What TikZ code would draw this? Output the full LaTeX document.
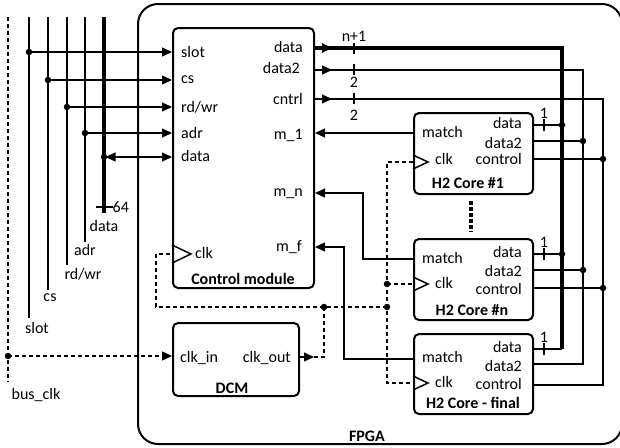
\documentclass[tikz,border=0pt]{standalone}
\usepackage{fontspec}
\setmainfont{Carlito}
\usetikzlibrary{arrows.meta,decorations.markings}
\begin{document}
\begin{tikzpicture}[x=1pt,y=-1pt,
  font=\fontsize{16}{19}\selectfont,
  >={Triangle[length=10pt,width=9pt]},
  box/.style={draw, line width=2pt, rounded corners=5pt, inner sep=0, anchor=north west},
  wire/.style={line width=1.3pt},
  sig/.style={line width=1.8pt},
  bus/.style={line width=4pt},
  clkw/.style={line width=1.2pt, dash pattern=on 4pt off 3pt},
  tri/.style={line width=1.5pt, line join=miter},
  dot/.style={circle, fill, inner sep=0, minimum size=6.5pt},
  lbl/.style={inner sep=0},
  ttl/.style={inner sep=0, font=\fontsize{16}{19}\selectfont\bfseries},
  outarr/.style={postaction={decorate}, decoration={markings, mark=at position #1 with {\arrow{>}}}},
]
\useasboundingbox (0,0) rectangle (620,447);

% FPGA
\node[box, rounded corners=20pt, minimum width=484pt, minimum height=440pt] (fpga) at (137,3) {};
\node[ttl] (fpgal) at (367,436) {FPGA};

% boxes
\node[box, minimum width=141pt, minimum height=260pt] (cm) at (172,27) {};
\node[box, minimum width=126pt, minimum height=73pt] (dcm) at (172,322) {};
\node[box, minimum width=119pt, minimum height=81pt] (c1) at (413,112) {};
\node[box, minimum width=119pt, minimum height=81pt] (cn) at (413,238) {};
\node[box, minimum width=119pt, minimum height=80pt] (cf) at (413,333) {};

% control module labels
\node[lbl, anchor=west] (cmslot) at (181,52) {slot};
\node[lbl, anchor=west] (cmcs) at (181,80) {cs};
\node[lbl, anchor=west] (cmrw) at (181,107) {rd/wr};
\node[lbl, anchor=west] (cmadr) at (181,133) {adr};
\node[lbl, anchor=west] (cmdata) at (181,156) {data};
\node[lbl, anchor=west] (cmclk) at (195,253) {clk};
\node[lbl, anchor=east] (cmod) at (303,47) {data};
\node[lbl, anchor=east] (cmod2) at (300,68) {data2};
\node[lbl, anchor=east] (cmoc) at (303,99) {cntrl};
\node[lbl, anchor=east] (cmm1) at (303,135) {m\_1};
\node[lbl, anchor=east] (cmmn) at (303,194) {m\_n};
\node[lbl, anchor=east] (cmmf) at (302,247) {m\_f};
\node[ttl] (cmt) at (243,279) {Control module};
\draw[tri] (172,245) -- (191,254) -- (172,263);

% DCM labels
\node[lbl, anchor=west] (dcmin) at (180,358) {clk\_in};
\node[lbl, anchor=east] (dcmout) at (291,358) {clk\_out};
\node[ttl] (dcmt) at (232,388) {DCM};

% core labels
\foreach \c/\t/\dy/\ddy/\cy/\my/\ky/\ty/\tx in {c1/H2 Core \#1/123/143/159/132/159/183/468, cn/H2 Core \#n/252/271/289/258/283/310/472, cf/H2 Core - final/347/366/384/357/382/403/473}{
  \node[lbl, anchor=east] (\c d) at (522,\dy) {data};
  \node[lbl, anchor=east] (\c dd) at (522,\ddy) {data2};
  \node[lbl, anchor=east] (\c c) at (522,\cy) {control};
  \node[lbl, anchor=west] (\c m) at (422,\my) {match};
  \node[lbl, anchor=west] (\c k) at (435,\ky) {clk};
  \node[ttl] (\c t) at (\tx,\ty) {\t};
}
\draw[tri] (413,155) -- (428,162) -- (413,169);
\draw[tri] (413,277) -- (428,284) -- (413,291);
\draw[tri] (413,376) -- (428,383) -- (413,390);

% ellipsis
\draw[line width=3.5pt, dash pattern=on 3.5pt off 2.5pt] (471,201) -- (471,232);

% external bus lines
\foreach \n/\x/\yb/\lx/\ly in {slot/29/318/37/328, cs/48/290/50/298, rw/67/265/83/274, adr/85/242/85/250}{
  \coordinate (\n T) at (\x,17);
  \coordinate (\n B) at (\x,\yb);
  \draw[sig] (\n T) -- (\n B);
}
\node[lbl] (slotL) at (37,328) {slot};
\node[lbl] (csL) at (50,298) {cs};
\node[lbl] (rwL) at (83,274) {rd/wr};
\node[lbl] (adrL) at (85,250) {adr};
\coordinate (dataT) at (104,17);
\coordinate (dataB) at (104,213);
\draw[bus] (dataT) -- (dataB);
\node[lbl] (dataL) at (104,226) {data};
\coordinate (t64a) at (96,207);
\node[lbl, anchor=west] (t64) at (112.5,207) {64};
\draw[wire] (t64a) -- (t64.west);

% input connections
\node[dot] (dslot) at (29,52) {};
\node[dot] (dcs) at (48,80) {};
\node[dot] (drw) at (67,107) {};
\node[dot] (dadr) at (85,133) {};
\node[dot] (ddata) at (104,157) {};
\draw[wire,->] (dslot.center) -- (cm.west |- dslot);
\draw[wire,->] (dcs.center) -- (cm.west |- dcs);
\draw[wire,->] (drw.center) -- (cm.west |- drw);
\draw[wire,->] (dadr.center) -- (cm.west |- dadr);
\draw[wire,<->, shorten <=1.5pt] (ddata.center) -- (cm.west |- ddata);

% bus clock
\coordinate (bckT) at (8,17);
\coordinate (bckB) at (8,382);
\draw[clkw] (bckT) -- (bckB);
\node[lbl] (bckL) at (36,395) {bus\_clk};
\node[dot] (dbck) at (8,356) {};
\draw[clkw,->] (dbck.center) -- (dcm.west |- dbck);

% internal clock net
\coordinate (cko) at (324,357);
\node[dot] (dck) at (324,307) {};
\draw[clkw, outarr=14pt] (dcm.east |- cko) -- (cko) -- (dck.center);
\coordinate (cka) at (156,307);
\coordinate (ckb) at (156,254);
\node[dot] (dcn) at (387,307) {};
\draw[clkw] (dcn.center) -- (cka) -- (ckb) -- (cm.west |- ckb);
\coordinate (ckt) at (387,162);
\coordinate (ckbt) at (387,383);
\draw[clkw] (c1.west |- ckt) -- (ckt) -- (ckbt) -- (cf.west |- ckbt);
\node[dot] (dcn2) at (387,284) {};
\draw[clkw] (dcn2.center) -- (cn.west |- dcn2);

% output buses
\coordinate (bD) at (562,48);
\coordinate (bDb) at (562,349);
\coordinate (bD2) at (583,70);
\coordinate (bD2b) at (583,364);
\coordinate (bC) at (603,99);
\coordinate (bCb) at (603,385);
\draw[bus, outarr=17pt] (cm.east |- bD) -- (bD) -- (bDb);
\draw[wire] (cf.east |- bDb) -- (bDb);
\draw[wire, outarr=17pt] (cm.east |- bD2) -- (bD2) -- (bD2b) -- (cf.east |- bD2b);
\draw[wire, outarr=17pt] (cm.east |- bC) -- (bC) -- (bCb) -- (cf.east |- bCb);

% ticks on outputs
\coordinate (tk1a) at (354,43); \coordinate (tk1b) at (354,54);
\draw[wire] (tk1a) -- (tk1b);
\node[lbl] (tk1) at (354,36) {n+1};
\coordinate (tk2a) at (354,64); \coordinate (tk2b) at (354,75);
\draw[wire] (tk2a) -- (tk2b);
\node[lbl] (tk2) at (354,82) {2};
\coordinate (tk3a) at (354,93); \coordinate (tk3b) at (354,104);
\draw[wire] (tk3a) -- (tk3b);
\node[lbl] (tk3) at (354,115) {2};

% core outputs
\node[dot] (d1a) at (562,125) {};
\node[dot] (d1b) at (583,141) {};
\node[dot] (d1c) at (603,159) {};
\draw[wire] (c1.east |- d1a) -- (d1a.center);
\draw[wire] (c1.east |- d1b) -- (d1b.center);
\draw[wire] (c1.east |- d1c) -- (d1c.center);
\node[dot] (dna) at (562,254) {};
\node[dot] (dnb) at (583,270) {};
\node[dot] (dnc) at (603,288) {};
\draw[wire] (cn.east |- dna) -- (dna.center);
\draw[wire] (cn.east |- dnb) -- (dnb.center);
\draw[wire] (cn.east |- dnc) -- (dnc.center);
\foreach \y/\ly/\n in {125/113/a, 254/242/b, 349/337/c}{
  \coordinate (tc\n a) at (544,\y-6);
  \coordinate (tc\n b) at (544,\y+6);
  \draw[wire] (tc\n a) -- (tc\n b);
  \node[lbl] (tc\n) at (544,\ly) {1};
}

% match lines
\coordinate (m1) at (313,133);
\draw[wire,->] (c1.west |- m1) -- (cm.east |- m1);
\coordinate (mn1) at (363,259);
\coordinate (mn2) at (363,193);
\draw[wire,->] (cn.west |- mn1) -- (mn1) -- (mn2) -- (cm.east |- mn2);
\coordinate (mf1) at (344,359);
\coordinate (mf2) at (344,247);
\draw[wire,->] (cf.west |- mf1) -- (mf1) -- (mf2) -- (cm.east |- mf2);
\end{tikzpicture}
\end{document}
